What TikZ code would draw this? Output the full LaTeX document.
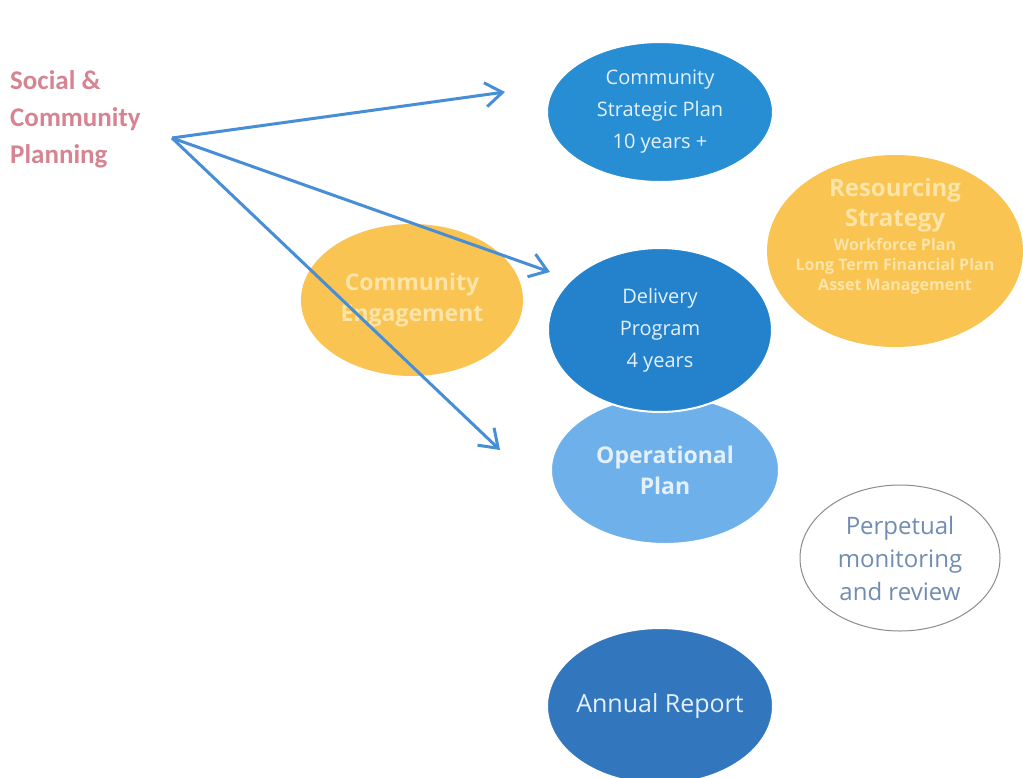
\documentclass[tikz,border=0pt]{standalone}
\usepackage{fontspec}
\setmainfont{Open Sans}
\newfontfamily\calib{Carlito}
\usetikzlibrary{arrows.meta,shapes.geometric}
\definecolor{bluemain}{RGB}{40,142,212}
\definecolor{bluedel}{RGB}{36,130,204}
\definecolor{bluelight}{RGB}{110,176,234}
\definecolor{bluedark}{RGB}{50,118,190}
\definecolor{orangefill}{RGB}{249,196,82}
\definecolor{orangetext}{RGB}{253,228,168}
\definecolor{bluetext}{RGB}{228,240,252}
\definecolor{pinktext}{RGB}{214,132,146}
\definecolor{graytext}{RGB}{112,140,178}
\definecolor{arrowblue}{RGB}{72,142,214}
\tikzset{
  x=1pt, y=-1pt,
  blob/.style={ellipse, draw=white, line width=2pt, inner sep=0pt, align=center, text=bluetext},
  orangeblob/.style={ellipse, fill=orangefill, inner sep=0pt, align=center, text=orangetext},
  conn/.style={arrowblue, line width=3pt, -{Straight Barb[length=17pt,width=24pt,line width=3pt]}},
}
\begin{document}
\begin{tikzpicture}
\useasboundingbox[fill=white] (0,0) rectangle (1023,777);
% orange ellipses
\node[orangeblob, minimum width=222pt, minimum height=152pt, font=\bfseries\fontsize{23}{31}\selectfont] (ce) at (412,300) {Community\\Engagement};
\node[orangeblob, inner xsep=-22pt, inner ysep=-14pt, minimum width=256pt, minimum height=192pt, font=\bfseries\fontsize{16}{20}\selectfont] (rs) at (895,251) {\fontsize{24}{30}\selectfont Resourcing\\[6pt]\fontsize{24}{30}\selectfont Strategy\\[4pt]\fontsize{16}{20}\selectfont Workforce Plan\\Long Term Financial Plan\\Asset Management\\[14pt]};
% blue ellipses
\node[blob, fill=bluemain, minimum width=226pt, minimum height=140pt, font=\fontsize{20}{32}\selectfont] (csp) at (660,112) {Community\\Strategic Plan\\10 years +};
\node[blob, fill=bluelight, minimum width=228pt, minimum height=148pt, font=\bfseries\fontsize{23}{31}\selectfont] (op) at (665,470) {Operational\\Plan};
\node[blob, fill=bluedel, minimum width=224pt, minimum height=164pt, font=\fontsize{20}{32}\selectfont] (dp) at (660,330) {Delivery\\Program\\4 years};
\node[blob, fill=bluedark, inner xsep=-30pt, minimum width=226pt, minimum height=156pt, font=\fontsize{25}{30}\selectfont] (ar) at (660,706) {Annual Report};
% monitoring
\node[ellipse, draw=black!45, line width=1pt, minimum width=200pt, minimum height=146pt, inner sep=0pt, align=center, text=graytext, font=\fontsize{24}{33}\selectfont] (pm) at (900,558) {Perpetual\\monitoring\\and review};
% source text
\node[anchor=north west, align=left, text=pinktext, font=\calib\bfseries\fontsize{27}{37}\selectfont, inner sep=0pt] (scp) at (10,70) {Social \&\\Community\\Planning};
% arrows
\coordinate (src) at (172,138);
\coordinate (t1) at (505,92);
\coordinate (t2) at (550,272);
\coordinate (t3) at (500,450);
\draw[conn] (src) -- (t1);
\draw[conn] (src) -- (t2);
\draw[conn] (src) -- (t3);
\end{tikzpicture}
\end{document}
